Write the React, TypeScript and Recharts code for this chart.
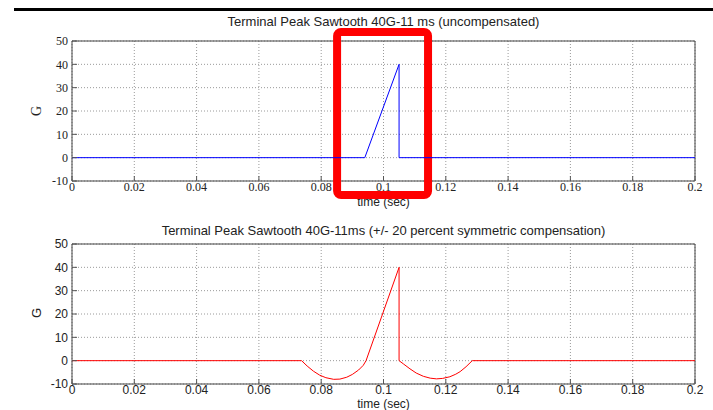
import React from "react";
import {
  LineChart,
  Line,
  XAxis,
  YAxis,
  CartesianGrid,
  ReferenceArea,
} from "recharts";

// time (sec) / acceleration (G) pairs
const rawTime = [0, 0.094, 0.105, 0.105, 0.2];
const rawG = [0, 0, 40, 0, 0];

const compTime = [
  0, 0.0737, 0.0755, 0.0775, 0.0795, 0.0815, 0.084, 0.086, 0.0882, 0.09, 0.092,
  0.0935, 0.0944, 0.105, 0.105, 0.1065, 0.1085, 0.1105, 0.1128, 0.115, 0.117,
  0.119, 0.1213, 0.1232, 0.1246, 0.1265, 0.1285, 0.2,
];
const compG = [
  0, 0, -2.3, -4.5, -6.2, -7.3, -8.0, -7.9, -7.1, -5.9, -4.0, -2.0, 0, 40, 0,
  -1.5, -3.5, -5.3, -6.7, -7.5, -7.8, -7.6, -6.9, -5.8, -4.7, -2.6, 0, 0,
];

const xTicks = [0, 0.02, 0.04, 0.06, 0.08, 0.1, 0.12, 0.14, 0.16, 0.18, 0.2];
const yTicks = [-10, 0, 10, 20, 30, 40, 50];

// red highlight box drawn over the upper plot (data units)
const highlight = { x1: 0.0851, x2: 0.1143, y1: -16, y2: 53.9 };

const rawData = rawTime.map((t, i) => ({ t, g: rawG[i] }));
const compData = compTime.map((t, i) => ({ t, g: compG[i] }));

const SANS = "Liberation Sans, Arial, sans-serif";
const SERIF = "Liberation Serif, Times New Roman, serif";

const blank = () => "";

function Panel({
  data,
  color,
  tickFont,
  top,
  box,
}: {
  data: { t: number; g: number }[];
  color: string;
  tickFont: string;
  top: number;
  box?: boolean;
}) {
  const tick = { fontSize: 12, fill: "#222", fontFamily: tickFont };
  return (
    <LineChart
      width={713}
      height={205}
      data={data}
      margin={{ top, right: 18, bottom: 0, left: 0 }}
    >
      <CartesianGrid stroke="#9a9a9a" strokeDasharray="1 2" />
      <XAxis
        type="number"
        dataKey="t"
        domain={[0, 0.2]}
        ticks={xTicks}
        tick={tick}
        tickLine={{ stroke: "#555" }}
        tickSize={-5}
        tickMargin={6}
        axisLine={false}
        height={205 - top - 140}
      />
      <XAxis
        xAxisId="top"
        orientation="top"
        type="number"
        dataKey="t"
        domain={[0, 0.2]}
        ticks={xTicks}
        tickFormatter={blank}
        tickLine={{ stroke: "#555" }}
        tickSize={-5}
        axisLine={false}
        height={0}
      />
      <YAxis
        type="number"
        domain={[-10, 50]}
        ticks={yTicks}
        tick={tick}
        tickLine={{ stroke: "#555" }}
        tickSize={-5}
        tickMargin={9}
        axisLine={false}
        width={72}
      />
      <YAxis
        yAxisId="right"
        orientation="right"
        type="number"
        domain={[-10, 50]}
        ticks={yTicks}
        tickFormatter={blank}
        tickLine={{ stroke: "#555" }}
        tickSize={-5}
        axisLine={false}
        width={0}
      />
      <ReferenceArea
        x1={0}
        x2={0.2}
        y1={-10}
        y2={50}
        fill="none"
        stroke="#444"
        strokeWidth={1}
      />
      <Line
        type="linear"
        dataKey="g"
        stroke={color}
        strokeWidth={1}
        dot={false}
        isAnimationActive={false}
      />
      {box && (
        <ReferenceArea
          x1={highlight.x1}
          x2={highlight.x2}
          y1={highlight.y1}
          y2={highlight.y2}
          ifOverflow="visible"
          fill="none"
          stroke="#ff0000"
          strokeWidth={8}
          radius={4}
        />
      )}
    </LineChart>
  );
}

export default function App() {
  const title = {
    position: "absolute" as const,
    left: 72,
    width: 623,
    textAlign: "center" as const,
    fontFamily: SANS,
    fontSize: 13,
    lineHeight: "14px",
    color: "#222",
  };
  const axisTitle = {
    ...title,
    fontSize: 12,
    lineHeight: "11px",
  };
  const gLabel = {
    position: "absolute" as const,
    left: 30,
    width: 14,
    height: 14,
    lineHeight: "14px",
    textAlign: "center" as const,
    fontSize: 14,
    color: "#222",
    transform: "rotate(-90deg)",
  };
  return (
    <div
      style={{
        position: "absolute",
        left: 0,
        top: 0,
        width: 713,
        height: 410,
        background: "#fff",
        overflow: "hidden",
      }}
    >
      <div
        style={{
          position: "absolute",
          left: 14,
          top: 8,
          width: 699,
          height: 3,
          background: "#000",
        }}
      />
      <div style={{ ...title, top: 15 }}>
        Terminal Peak Sawtooth 40G-11 ms (uncompensated)
      </div>
      <div style={{ ...title, top: 224 }}>
        Terminal Peak Sawtooth 40G-11ms (+/- 20 percent symmetric compensation)
      </div>
      <div style={{ ...axisTitle, top: 197 }}>time (sec)</div>
      <div style={{ ...axisTitle, top: 399 }}>time (sec)</div>
      <div style={{ ...gLabel, top: 104, fontFamily: SERIF }}>G</div>
      <div style={{ ...gLabel, top: 306, fontFamily: SANS, fontSize: 13 }}>G</div>
      <div style={{ position: "absolute", left: 0, top: 0, width: 713, height: 205 }}>
        <Panel data={rawData} color="#0000ff" tickFont={SERIF} top={41} box />
      </div>
      <div style={{ position: "absolute", left: 0, top: 205, width: 713, height: 205 }}>
        <Panel data={compData} color="#ff0000" tickFont={SANS} top={39} />
      </div>
    </div>
  );
}
